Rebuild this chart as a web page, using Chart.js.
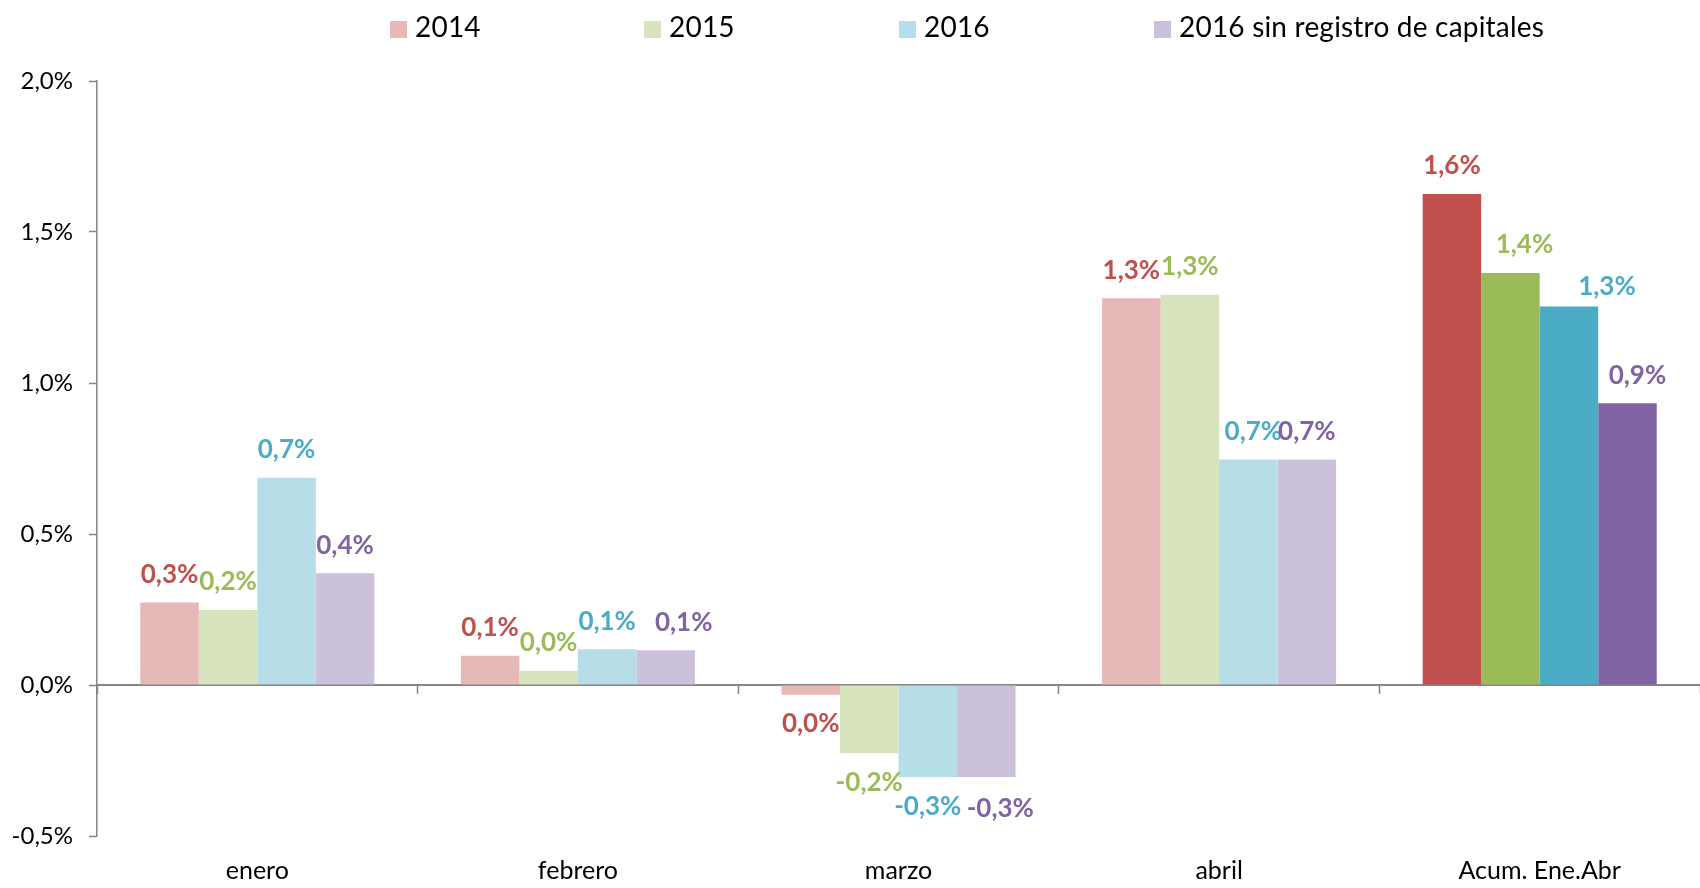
<!DOCTYPE html>
<html>
<head>
<meta charset="utf-8">
<script src="https://cdn.jsdelivr.net/npm/chart.js@4/dist/chart.umd.min.js"></script>
<style>
  html, body { margin: 0; padding: 0; background: #fff; }
  #wrap { position: relative; width: 1700px; height: 888px; }
  #legend { position: absolute; top: 0; left: 0; width: 1700px; height: 52px; font-family: Lato, sans-serif; font-size: 28px; color: #000; }
  .item { position: absolute; top: 9px; height: 34px; line-height: 34px; white-space: nowrap; letter-spacing: 0.2px; }
  .box { display: inline-block; width: 17px; height: 17px; margin-right: 8px; vertical-align: -1px; }
</style>
</head>
<body>
<div id="wrap">
  <canvas id="myChart" width="1700" height="888"></canvas>
  <div id="legend"></div>
</div>
<script>
var categories = ['enero', 'febrero', 'marzo', 'abril', 'Acum. Ene.Abr'];
var seriesNames = ['2014', '2015', '2016', '2016 sin registro de capitales'];
var v2014 = [0.273, 0.097, -0.032, 1.281, 1.626];
var v2015 = [0.248, 0.047, -0.226, 1.292, 1.364];
var v2016 = [0.686, 0.118, -0.305, 0.747, 1.253];
var v2016sr = [0.370, 0.115, -0.305, 0.747, 0.933];
var yTicks = [-0.5, 0, 0.5, 1.0, 1.5, 2.0];

var lightColors = ['#E6B9B8', '#D7E4BD', '#B7DEE8', '#CCC1DA'];
var darkColors = ['#C0504D', '#9BBB59', '#4BACC6', '#8064A2'];
var legendLeft = [390, 644, 899, 1154];
// small label nudges [series][category] -> [dx, dy], like the original placement
var labelNudge = {
    '3,1': [18, 0], '3,2': [14, 2], '1,4': [14, 0], '2,4': [38, 8], '3,4': [10, 0], '2,3': [5, 0]
};

fmtPct = function (v) {
    var r = Math.round(v * 10) / 10;
    if (Math.abs(r) < 0.05) r = 0;
    return r.toFixed(1).replace('.', ',') + '%';
}

barColors = function (i) {
    return categories.map(function (c, j) {
        return j === categories.length - 1 ? darkColors[i] : lightColors[i];
    });
}

var allSeries = [v2014, v2015, v2016, v2016sr];
var datasets = allSeries.map(function (vals, i) {
    return {
        label: seriesNames[i],
        data: vals,
        backgroundColor: barColors(i),
        borderWidth: 0,
        categoryPercentage: 0.73,
        barPercentage: 1.0
    };
});

var valueLabels = {
    id: 'valueLabels',
    afterDatasetsDraw: function (chart) {
        var ctx = chart.ctx;
        ctx.save();
        ctx.font = 'bold 26px Lato, sans-serif';
        ctx.textAlign = 'center';
        ctx.textBaseline = 'middle';
        chart.data.datasets.forEach(function (ds, i) {
            var meta = chart.getDatasetMeta(i);
            ctx.fillStyle = darkColors[i];
            meta.data.forEach(function (el, j) {
                var v = ds.data[j];
                var n = labelNudge[i + ',' + j] || [0, 0];
                var y = v >= 0 ? el.y - 28 : el.y + 29;
                ctx.fillText(fmtPct(v), el.x + n[0], y + n[1]);
            });
        });
        ctx.restore();
    }
};

var myChart = new Chart(document.getElementById('myChart').getContext('2d'), {
    type: 'bar',
    data: { labels: categories, datasets: datasets },
    options: {
        responsive: false,
        animation: false,
        layout: { padding: { top: 81, right: 0, bottom: 0, left: 0 } },
        plugins: { legend: { display: false }, tooltip: { enabled: false } },
        scales: {
            x: {
                position: { y: 0 },
                offset: true,
                ticks: { display: false },
                grid: { drawOnChartArea: false, drawTicks: true, tickLength: 8, color: '#868686', tickWidth: 1.5, offset: true },
                border: { display: true, color: '#868686', width: 2 }
            },
            x2: {
                type: 'category',
                labels: categories,
                position: 'bottom',
                offset: true,
                afterFit: function (s) { s.height = 52; },
                grid: { display: false, drawTicks: false },
                border: { display: false },
                ticks: { color: '#000', font: { family: 'Lato, sans-serif', size: 25 }, padding: 20, maxRotation: 0 }
            },
            y: {
                min: -0.5,
                max: 2.0,
                afterFit: function (s) { s.width = 97; },
                afterBuildTicks: function (s) { s.ticks = yTicks.map(function (v) { return { value: v }; }); },
                ticks: { color: '#000', font: { family: 'Lato, sans-serif', size: 24 }, padding: 16, callback: function (v) { return fmtPct(v); } },
                grid: { drawOnChartArea: false, drawTicks: true, tickLength: 8, tickColor: '#868686', tickWidth: 1.5 },
                border: { display: true, color: '#868686', width: 1.5 }
            }
        }
    },
    plugins: [valueLabels]
});

var legend = document.getElementById('legend');
seriesNames.forEach(function (name, i) {
    var item = document.createElement('div');
    item.className = 'item';
    item.style.left = legendLeft[i] + 'px';
    var box = document.createElement('span');
    box.className = 'box';
    box.style.background = lightColors[i];
    item.appendChild(box);
    item.appendChild(document.createTextNode(name));
    legend.appendChild(item);
});
</script>
</body>
</html>
